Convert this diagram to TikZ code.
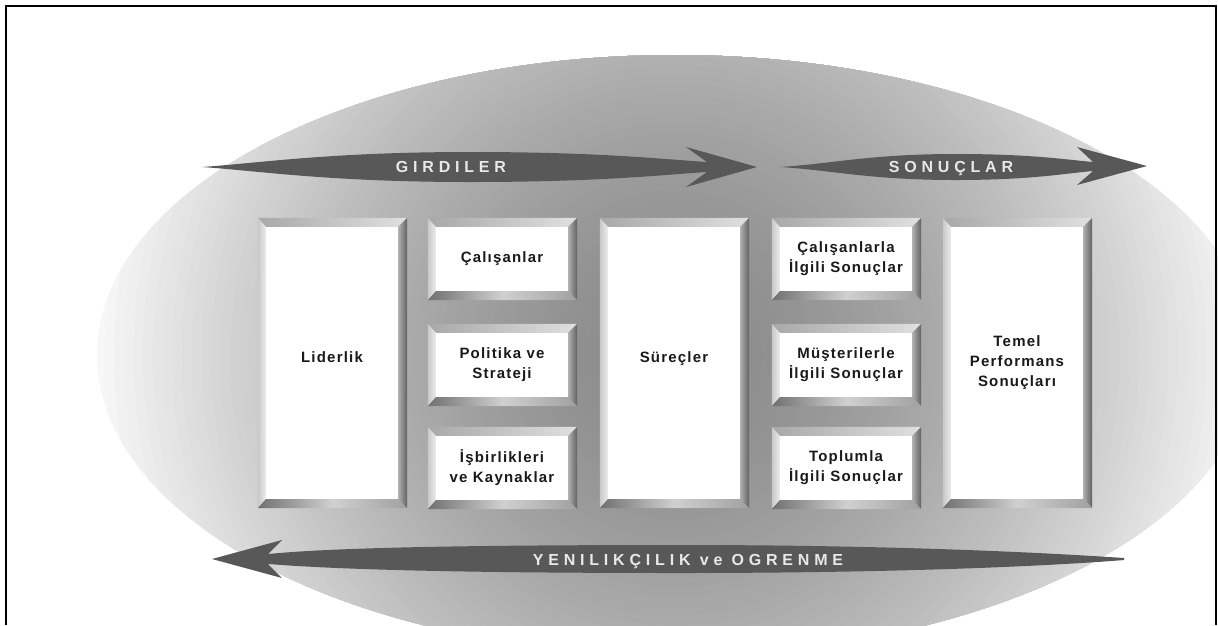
\documentclass[tikz,border=0pt]{standalone}
\usepackage{fontspec}
\setmainfont{Liberation Sans}
\newfontfamily\boxfont{Liberation Sans}[LetterSpace=8]
\newfontfamily\banfont{Liberation Sans}[LetterSpace=30]
\usetikzlibrary{calc}
\definecolor{bantextc}{HTML}{E8E8E8}
\definecolor{banfill}{HTML}{585858}
\definecolor{boxtext}{HTML}{1A1A1A}
\definecolor{bvTopL}{HTML}{A8A8A8}
\definecolor{bvTopR}{HTML}{E0E0E0}
\definecolor{bvLeftL}{HTML}{C8C8C8}
\definecolor{bvLeftR}{HTML}{ECECEC}
\definecolor{bvRightL}{HTML}{B0B0B0}
\definecolor{bvRightR}{HTML}{606060}
\definecolor{bvBotL}{HTML}{707070}
\definecolor{bvBotM}{HTML}{D0D0D0}
\definecolor{bvBotR}{HTML}{A0A0A0}
\newcommand\bevel[1]{%
  \shade[left color=bvTopL, right color=bvTopR] (#1.north west) -- (#1.north east) -- ([shift={(9,-9)}]#1.north east) -- ([shift={(-8,-9)}]#1.north west) -- cycle;
  \shade[left color=bvLeftL, right color=bvLeftR] (#1.north west) -- ([shift={(-8,-9)}]#1.north west) -- ([shift={(-8,9)}]#1.south west) -- (#1.south west) -- cycle;
  \shade[left color=bvRightL, right color=bvRightR] (#1.north east) -- ([shift={(9,-9)}]#1.north east) -- ([shift={(9,9)}]#1.south east) -- (#1.south east) -- cycle;
  \shade[left color=bvBotL, right color=bvBotR, middle color=bvBotM] (#1.south west) -- (#1.south east) -- ([shift={(9,9)}]#1.south east) -- ([shift={(-8,9)}]#1.south west) -- cycle;
}
\begin{document}
\begin{tikzpicture}[x=1pt,y=-1pt,
  inbox/.style={fill=white, draw=none, inner sep=0pt, align=center, minimum width=132pt,
    font=\boxfont\bfseries\fontsize{15}{20}\selectfont, text=boxtext},
  tallbox/.style={inbox, minimum height=272pt},
  smallbox/.style={inbox, minimum height=64pt},
  bantext/.style={anchor=base, inner sep=0pt, text=bantextc, font=\banfont\bfseries\fontsize{16}{18}\selectfont},
  banner/.style={fill=banfill, draw=none}]
\useasboundingbox (0,0) rectangle (1218,625);
% background ellipse with a radial grey gradient
\begin{scope}
  \clip (0,0) rectangle (1218,625);
  \clip (675,355) ellipse [x radius=578, y radius=300];
  \foreach \i in {0,...,59} {
    \pgfmathsetmacro\t{1-\i/60}
    \pgfmathsetmacro\g{0.54+0.43*pow(\t,1.6)}
    \definecolor{curg}{gray}{\g}
    \fill[curg] (675,355) circle [radius=580*\t];
  }
\end{scope}
% banners
\fill[banner] (202,167) .. controls (260,163) and (330,152) .. (470,152) .. controls (600,152) and (660,159) .. (707,162) -- (686,147) -- (757,167) -- (686,187) -- (707,172) .. controls (660,175) and (600,182) .. (470,182) .. controls (330,182) and (260,171) .. cycle;
\fill[banner] (780,167) .. controls (830,164) and (870,154) .. (955,154) .. controls (1030,154) and (1060,159) .. (1093,162) -- (1077,147) -- (1147,166) -- (1077,185) -- (1093,171) .. controls (1060,174) and (1030,180) .. (955,180) .. controls (870,180) and (830,170) .. cycle;
\fill[banner] (212,559) -- (282,540) -- (268,554) .. controls (320,549) and (420,545) .. (680,545) .. controls (900,545) and (1050,553) .. (1124,558) -- (1124,560) .. controls (1050,566) and (900,573) .. (680,573) .. controls (420,573) and (320,568) .. (268,564) -- (282,578) -- cycle;
\node[bantext] (girdiler) at (451,172) {GIRDILER};
\node[bantext] (sonuclar) at (951,172) {SONUÇLAR};
\node[bantext] (yenilik) at (688,565) {YENILIKÇILIK ve OGRENME};
% boxes
\node[tallbox] (liderlik) at (332,363) {Liderlik\\[-8pt]};
\node[smallbox] (calisanlar) at (502,259) {Çalışanlar};
\node[smallbox] (politika) at (502,365) {Politika ve\\Strateji};
\node[smallbox] (isbirlik) at (502,468) {İşbirlikleri\\ve Kaynaklar};
\node[tallbox] (surecler) at (674,363) {Süreçler\\[-8pt]};
\node[smallbox] (calsonuc) at (846,259) {Çalışanlarla\\İlgili Sonuçlar};
\node[smallbox] (mustsonuc) at (846,365) {Müşterilerle\\İlgili Sonuçlar};
\node[smallbox] (topsonuc) at (846,468) {Toplumla\\İlgili Sonuçlar};
\node[tallbox] (temel) at (1017,363) {Temel\\Performans\\Sonuçları};
\bevel{liderlik}\bevel{calisanlar}\bevel{politika}\bevel{isbirlik}\bevel{surecler}
\bevel{calsonuc}\bevel{mustsonuc}\bevel{topsonuc}\bevel{temel}
% frame
\draw[line width=2pt] (6,625) -- (6,5.5) -- (1216,5.5) -- (1216,625);
\end{tikzpicture}
\end{document}
